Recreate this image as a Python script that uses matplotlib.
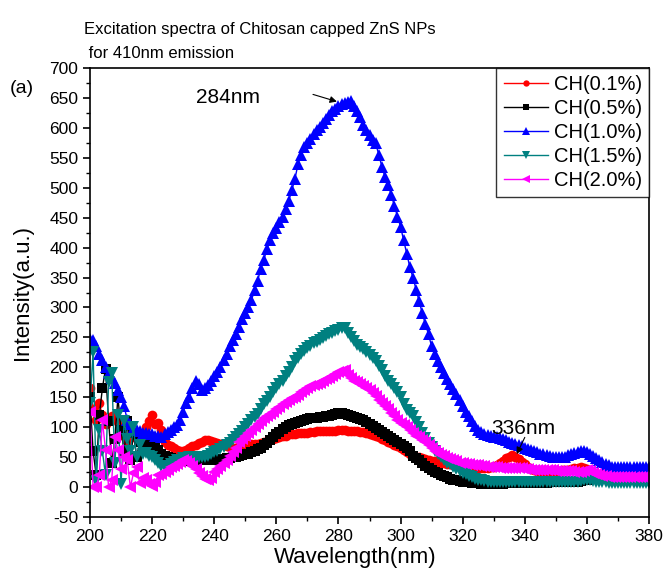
import numpy as np
import matplotlib
matplotlib.use("Agg")
import matplotlib.pyplot as plt
from matplotlib.ticker import MultipleLocator

plt.rcParams['font.family'] = ['Liberation Sans', 'DejaVu Sans']
plt.rcParams['axes.unicode_minus'] = False

wavelength = list(range(200, 381))

ch_01 = [165, 130, 112, 140, 120, 105, 110, 118, 120, 108,
         98, 85, 75, 82, 90, 86, 82, 90, 100, 110,
         120, 105, 107, 95, 75, 70, 68, 65, 62, 61,
         60, 62, 65, 68, 70, 73, 76, 78, 78, 77,
         75, 73, 72, 70, 68, 67, 66, 66, 68, 69,
         70, 71, 72, 72, 72, 73, 75, 76, 78, 80,
         82, 84, 85, 86, 88, 88, 89, 90, 90, 91,
         91, 92, 92, 93, 93, 93, 93, 94, 94, 94,
         95, 95, 95, 94, 94, 93, 93, 92, 92, 90,
         88, 87, 85, 83, 80, 78, 75, 73, 70, 68,
         65, 62, 58, 55, 53, 51, 50, 48, 47, 45,
         44, 43, 42, 41, 40, 39, 38, 37, 36, 35,
         34, 34, 33, 33, 32, 32, 32, 32, 32, 33,
         34, 37, 40, 44, 48, 51, 53, 51, 47, 42,
         38, 34, 30, 28, 26, 25, 25, 25, 26, 26,
         27, 27, 28, 28, 29, 30, 31, 32, 33, 32,
         30]

ch_05 = [150, 60, 20, 120, 165, 198, 110, 40, 80, 150,
         95, 60, 110, 45, 90, 50, 75, 85, 60, 70,
         60, 67, 62, 55, 52, 50, 48, 45, 45, 44,
         44, 44, 44, 45, 45, 45, 45, 45, 45, 45,
         45, 46, 47, 47, 48, 49, 50, 51, 52, 53,
         55, 56, 58, 60, 63, 66, 70, 74, 78, 83,
         88, 92, 97, 100, 103, 105, 107, 108, 110, 112,
         113, 115, 116, 116, 117, 117, 118, 119, 120, 122,
         123, 123, 122, 120, 118, 117, 115, 114, 112, 108,
         105, 102, 98, 95, 92, 88, 85, 82, 78, 75,
         72, 69, 66, 60, 52, 48, 45, 40, 35, 31,
         28, 25, 23, 20, 18, 16, 14, 12, 11, 10,
         9, 8, 8, 7, 6, 6, 5, 5, 5, 5,
         5, 5, 5, 5, 6, 6, 6, 6, 7, 7,
         7, 7, 7, 7, 7, 7, 7, 7, 8, 8,
         8, 8, 8, 8, 8, 8, 9, 9, 10, 11,
         12, 13, 15, 16, 18, 20, 22, 24, 25, 24]

ch_10 = [248, 245, 235, 222, 212, 200, 190, 182, 174, 162,
         151, 135, 112, 105, 97, 95, 93, 91, 90, 89,
         88, 86, 85, 84, 88, 92, 95, 100, 104, 112,
         125, 140, 150, 165, 178, 172, 162, 165, 170, 178,
         185, 192, 200, 212, 222, 235, 245, 255, 267, 280,
         290, 300, 312, 330, 345, 365, 380, 398, 412, 424,
         432, 442, 452, 465, 478, 496, 515, 540, 555, 568,
         575, 582, 590, 596, 602, 608, 615, 622, 628, 632,
         636, 640, 641, 643, 645, 637, 628, 618, 605, 596,
         588, 580, 574, 555, 535, 518, 505, 488, 470, 452,
         435, 412, 390, 367, 350, 330, 310, 290, 272, 255,
         235, 222, 210, 200, 190, 180, 172, 163, 155, 145,
         135, 126, 118, 110, 102, 96, 92, 89, 87, 85,
         84, 83, 82, 80, 78, 76, 74, 72, 70, 68,
         66, 64, 62, 60, 58, 56, 55, 53, 52, 51,
         50, 50, 50, 51, 53, 55, 57, 59, 60, 60,
         58, 55, 52, 49, 46, 42, 38, 36, 34, 33,
         33, 33, 33, 33, 33, 33, 33, 33, 33, 33, 33]

ch_15 = [140, 225, 10, 95, 60, 20, 175, 190, 40, 120,
         5, 110, 80, 60, 100, 50, 70, 55, 57, 52,
         50, 45, 40, 35, 33, 35, 38, 42, 45, 46,
         48, 49, 50, 50, 50, 50, 50, 51, 52, 55,
         58, 61, 64, 67, 70, 74, 78, 83, 88, 94,
         100, 106, 112, 117, 122, 130, 138, 144, 150, 158,
         165, 172, 178, 185, 192, 200, 210, 216, 222, 227,
         232, 236, 240, 243, 246, 249, 252, 255, 258, 261,
         263, 265, 266, 258, 250, 244, 238, 234, 230, 225,
         220, 215, 210, 202, 195, 186, 178, 172, 165, 158,
         150, 138, 128, 123, 118, 108, 100, 90, 82, 74,
         67, 61, 55, 50, 45, 41, 38, 34, 30, 27,
         24, 21, 18, 16, 14, 12, 11, 10, 9, 9,
         8, 8, 8, 8, 8, 8, 8, 8, 8, 8,
         8, 8, 8, 8, 8, 8, 8, 8, 8, 8,
         8, 8, 8, 8, 8, 8, 8, 9, 10, 11,
         12, 11, 10, 9, 8, 8, 8, 7, 7, 7,
         7, 7, 7, 6, 6, 6, 6, 6, 6, 6, 6]

ch_20 = [125, 0, 0, 20, 112, 62, 0, 12, 83, 62,
         30, 50, 45, 0, 23, 33, 7, 15, 12, 5,
         2, 8, 20, 22, 25, 28, 33, 35, 38, 42,
         45, 43, 40, 35, 30, 24, 18, 14, 12, 15,
         25, 30, 35, 40, 45, 52, 58, 66, 75, 80,
         85, 90, 95, 100, 105, 110, 115, 118, 122, 126,
         130, 134, 138, 142, 145, 148, 150, 154, 158, 162,
         165, 168, 170, 172, 174, 177, 180, 183, 186, 189,
         192, 194, 195, 188, 182, 178, 175, 172, 168, 165,
         162, 157, 152, 146, 140, 135, 130, 124, 118, 112,
         107, 103, 100, 95, 90, 86, 83, 79, 75, 70,
         65, 61, 57, 54, 52, 49, 47, 45, 43, 41,
         40, 39, 38, 37, 36, 36, 35, 35, 34, 34,
         33, 33, 32, 32, 32, 32, 32, 31, 31, 31,
         30, 30, 29, 29, 29, 29, 28, 28, 28, 28,
         27, 27, 26, 26, 26, 26, 25, 25, 25, 26,
         28, 26, 24, 22, 20, 19, 18, 17, 17, 17,
         17, 17, 17, 16, 16, 16, 16, 16, 16, 16, 16]

series = [
    ("CH(0.1%)", ch_01, 'red', 'o', 7.0),
    ("CH(0.5%)", ch_05, 'black', 's', 6.5),
    ("CH(1.0%)", ch_10, 'blue', '^', 8.0),
    ("CH(1.5%)", ch_15, '#008080', 'v', 8.0),
    ("CH(2.0%)", ch_20, 'magenta', '<', 8.0),
]

fig = plt.figure(figsize=(6.65, 5.72), dpi=100)
ax = fig.add_axes([0.1353, 0.0962, 0.976 - 0.1353, 0.881 - 0.0962])

for label, vals, color, marker, ms in series:
    x = wavelength[:len(vals)]
    ax.plot(x, vals, color=color, marker=marker, markersize=ms, linewidth=1,
            markeredgewidth=0, label=label)

ax.set_xlim(200, 380)
ax.set_ylim(-50, 700)
ax.xaxis.set_major_locator(MultipleLocator(20))
ax.xaxis.set_minor_locator(MultipleLocator(10))
ax.yaxis.set_major_locator(MultipleLocator(50))
ax.yaxis.set_minor_locator(MultipleLocator(25))
ax.tick_params(axis='both', which='major', direction='out', length=5, width=1.2, labelsize=12.5,
               top=False, right=False)
ax.tick_params(axis='both', which='minor', direction='out', length=3, width=1, top=False, right=False)
for sp in ax.spines.values():
    sp.set_linewidth(1.2)

ax.set_xlabel("Wavelength(nm)", fontsize=16)
ax.set_ylabel("Intensity(a.u.)", fontsize=16)
ax.xaxis.set_label_coords(0.475, -0.066)
ax.yaxis.set_label_coords(-0.102, 0.5)

leg = ax.legend(loc='upper right', fontsize=14.5, frameon=True, fancybox=False,
                edgecolor='black', borderaxespad=0, handlelength=2.2, labelspacing=0.25,
                borderpad=0.35, handletextpad=0.3, markerscale=0.65)
leg.get_frame().set_linewidth(1.0)

ax.text(244.5, 651, "284nm", fontsize=15, ha='center', va='center')
ax.annotate("", xy=(279.5, 644), xytext=(271.8, 656),
            arrowprops=dict(arrowstyle='-|>', color='black', lw=0.8,
                            shrinkA=0, shrinkB=0, mutation_scale=10))
ax.text(339.4, 98, "336nm", fontsize=15, ha='center', va='center')
ax.annotate("", xy=(337.4, 55), xytext=(340, 83),
            arrowprops=dict(arrowstyle='-|>', color='black', lw=0.8,
                            shrinkA=0, shrinkB=0, mutation_scale=10))

fig.text(0.126, 0.9476, "Excitation spectra of Chitosan capped ZnS NPs", fontsize=12,
         ha='left', va='center')
fig.text(0.126, 0.907, " for 410nm emission", fontsize=12, ha='left', va='center')
fig.text(0.015, 0.846, "(a)", fontsize=14, ha='left', va='center')

fig.savefig("out.png", dpi=100)
